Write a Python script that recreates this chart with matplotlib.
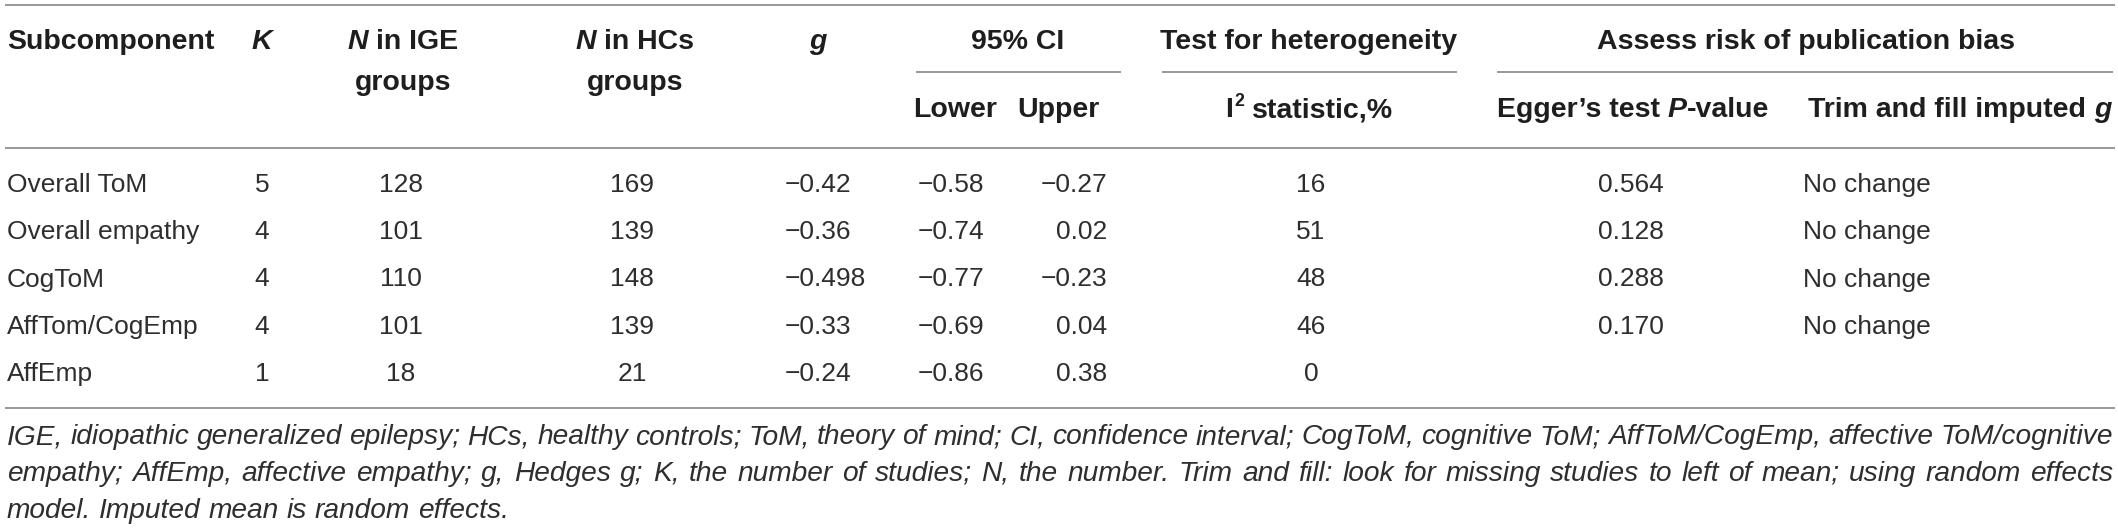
"""Meta-analysis summary table: ToM and empathy in IGE vs HCs."""
import matplotlib.pyplot as plt

# ---- table data -------------------------------------------------------------
subcomponents = ['Overall ToM', 'Overall empathy', 'CogToM', 'AffTom/CogEmp', 'AffEmp']
k_studies = [5, 4, 4, 4, 1]
n_ige = [128, 101, 110, 101, 18]
n_hc = [169, 139, 148, 139, 21]
g_vals = [-0.42, -0.36, -0.498, -0.33, -0.24]
ci_lower = [-0.58, -0.74, -0.77, -0.69, -0.86]
ci_upper = [-0.27, 0.02, -0.23, 0.04, 0.38]
i2_stat = [16, 51, 48, 46, 0]
egger_p = [0.564, 0.128, 0.288, 0.170, None]
trim_fill = ['No change', 'No change', 'No change', 'No change', '']

footnote = [
    'IGE, idiopathic generalized epilepsy; HCs, healthy controls; ToM, theory of mind; '
    'CI, confidence interval; CogToM, cognitive ToM; AffToM/CogEmp, affective ToM/cognitive',
    'empathy; AffEmp, affective empathy; g, Hedges g; K, the number of studies; N, the number. '
    'Trim and fill: look for missing studies to left of mean; using random effects',
    'model. Imputed mean is random effects.',
]

FAMILY = ['Liberation Sans', 'DejaVu Sans']
HEAD_SIZE = 20.5
BODY_SIZE = 19
HEAD_COLOR = '#1e1e1e'
BODY_COLOR = '#2e2e2e'
RULE_COLOR = '#9a9a9a'

W, H = 2118, 532
fig = plt.figure(figsize=(W / 100, H / 100), dpi=100)
ax = fig.add_axes([0, 0, 1, 1])
ax.set_xlim(0, W)
ax.set_ylim(H, 0)
ax.axis('off')
renderer = fig.canvas.get_renderer()


def px(size):
    return size * 100 / 72


def width(t):
    return t.get_window_extent(renderer).width


def rich(x, y, parts, ha='center', size=HEAD_SIZE, weight='bold', color=HEAD_COLOR):
    """parts: (text, italic, gap before in em, relative size, raise in px)."""
    texts, ws, gaps = [], [], []
    for s, it, gap, rel, dy in parts:
        t = ax.text(0, y - dy, s, fontsize=size * rel, family=FAMILY,
                    fontstyle='italic' if it else 'normal', fontweight=weight,
                    color=color, ha='left', va='center')
        texts.append(t)
        ws.append(width(t))
        gaps.append(gap * px(size))
    total = sum(ws) + sum(gaps)
    x0 = x - total / 2 if ha == 'center' else x
    for t, w, g in zip(texts, ws, gaps):
        x0 += g
        t.set_x(x0)
        x0 += w


def plain(s):
    return [(s, False, 0, 1, 0)]


# ---- rules ------------------------------------------------------------------
lw = 2 * 72 / 100
ax.hlines([5, 148, 408], 5, 2115, color=RULE_COLOR, lw=lw)
ax.hlines([72, 72, 72], [916, 1162, 1497], [1121, 1457, 2113], color=RULE_COLOR, lw=lw)

# ---- header -----------------------------------------------------------------
y1, y2, y3 = 42, 83, 110
rich(7, y1, plain('Subcomponent'), ha='left')
rich(262, y1, [('K', True, 0, 1, 0)])
rich(403, y1, [('N', True, 0, 1, 0), ('in IGE', False, 0.28, 1, 0)])
rich(403, y2, plain('groups'))
rich(635, y1, [('N', True, 0, 1, 0), ('in HCs', False, 0.28, 1, 0)])
rich(635, y2, plain('groups'))
rich(818, y1, [('g', True, 0, 1, 0)])
rich(1018, y1, plain('95% CI'))
rich(955, y3, plain('Lower'))
rich(1058, y3, plain('Upper'))
rich(1309, y1, plain('Test for heterogeneity'))
rich(1309, y3, [('I', False, 0, 1, 0), ('2', False, 0.03, 0.62, 8),
                ('statistic,%', False, 0.28, 1, 0)])
rich(1806, y1, plain('Assess risk of publication bias'))
rich(1633, y3, [('Egger\u2019s test', False, 0, 1, 0), ('P', True, 0.28, 1, 0),
                ('-value', False, 0, 1, 0)])
rich(1960, y3, [('Trim and fill imputed', False, 0, 1, 0), ('g', True, 0.28, 1, 0)])


# ---- body -------------------------------------------------------------------
def num(v):
    return str(v).replace('-', '\u2212')


row0, row_step = 185, 47.25
body = dict(fontsize=BODY_SIZE, family=FAMILY, color=BODY_COLOR, va='center')
for i, name in enumerate(subcomponents):
    y = row0 + i * row_step
    ax.text(7, y, name, ha='left', **body)
    ax.text(262, y, str(k_studies[i]), ha='center', **body)
    ax.text(401, y, str(n_ige[i]), ha='center', **body)
    ax.text(632, y, str(n_hc[i]), ha='center', **body)
    ax.text(785, y, num(g_vals[i]), ha='left', **body)
    ax.text(918, y, num(ci_lower[i]), ha='left', **body)
    ax.text(1107, y, num(ci_upper[i]), ha='right', **body)
    ax.text(1311, y, str(i2_stat[i]), ha='center', **body)
    if egger_p[i] is not None:
        ax.text(1631, y, f'{egger_p[i]:.3f}', ha='center', **body)
    ax.text(1803, y, trim_fill[i], ha='left', **body)

# ---- footnote (justified) ---------------------------------------------------
note_left, note_right = 7, 2113
note_y = [437, 474, 511]


def note_widths(words, size):
    probe = [ax.text(0, 0, w, fontsize=size, family=FAMILY, fontstyle='italic')
             for w in words]
    ws = [width(t) for t in probe]
    for t in probe:
        t.remove()
    return ws


# pick the largest size whose lines still fit with ordinary word spacing
note_size = 21.0
while note_size > 12:
    fits = True
    for line in footnote[:-1]:
        words = line.split(' ')
        natural = sum(note_widths(words, note_size)) + (len(words) - 1) * 0.25 * px(note_size)
        if natural > note_right - note_left:
            fits = False
    if fits:
        break
    note_size -= 0.25

note = dict(fontsize=note_size, family=FAMILY, fontstyle='italic', color=BODY_COLOR,
            va='center', ha='left')
for j, line in enumerate(footnote):
    words = line.split(' ')
    texts = [ax.text(0, note_y[j], w, **note) for w in words]
    ws = [width(t) for t in texts]
    if j < len(footnote) - 1:
        gap = (note_right - note_left - sum(ws)) / (len(words) - 1)
    else:
        gap = 0.278 * px(note_size)
    x = note_left
    for t, w in zip(texts, ws):
        t.set_x(x)
        x += w + gap

fig.savefig('out.png', dpi=100)
